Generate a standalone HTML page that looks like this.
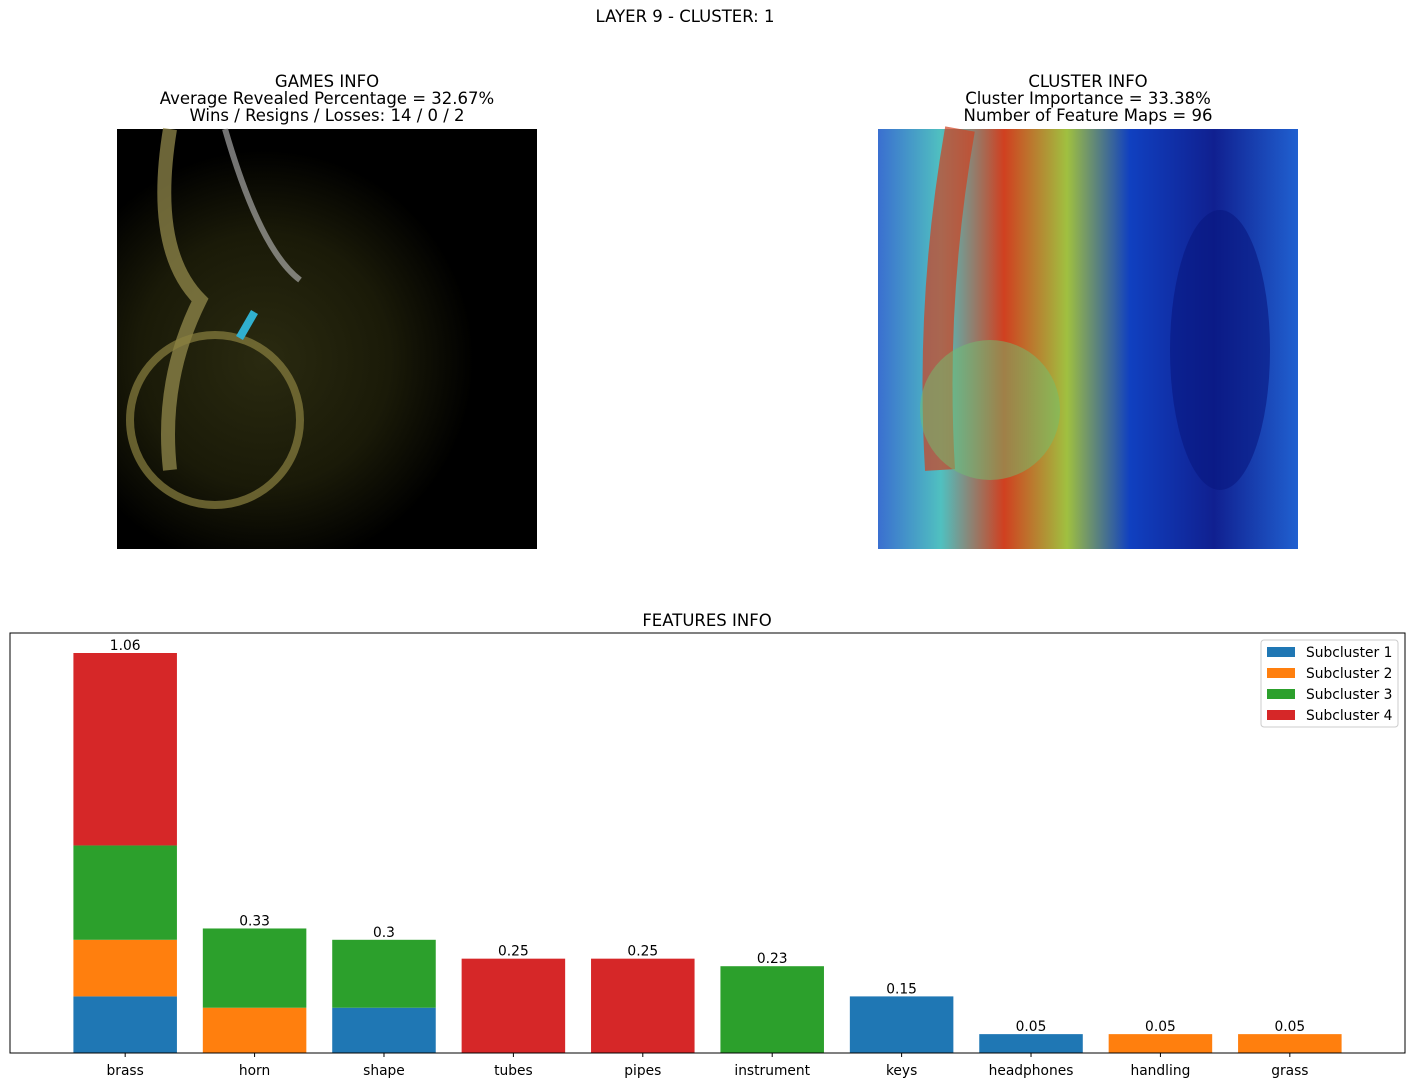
<!DOCTYPE html>
<html><head><meta charset="utf-8"><style>
body{margin:0;background:#fff;}
svg text{font-family:"DejaVu Sans","Liberation Sans",sans-serif;}
</style></head><body>
<svg id="fig" width="1415" height="1087" xmlns="http://www.w3.org/2000/svg">
<defs>
<radialGradient id="gl" cx="0.35" cy="0.55" r="0.5"><stop offset="0" stop-color="#2a2a10"/><stop offset="0.6" stop-color="#1a1a08"/><stop offset="1" stop-color="#000"/></radialGradient>
<linearGradient id="hb" x1="0" y1="0" x2="1" y2="0"><stop offset="0" stop-color="#3a6fd0"/><stop offset="0.15" stop-color="#50c0c0"/><stop offset="0.3" stop-color="#d04020"/><stop offset="0.45" stop-color="#a0c040"/><stop offset="0.6" stop-color="#1040c0"/><stop offset="0.8" stop-color="#102090"/><stop offset="1" stop-color="#2060d0"/></linearGradient>
</defs>
<text x="685" y="22" font-size="16.5" text-anchor="middle">LAYER 9 - CLUSTER: 1</text>
<g font-size="16.5" text-anchor="middle">
<text x="327" y="87">GAMES INFO</text><text x="327" y="104">Average Revealed Percentage = 32.67%</text><text x="327" y="121">Wins / Resigns / Losses: 14 / 0 / 2</text></g>
<g font-size="16.5" text-anchor="middle">
<text x="1088" y="87">CLUSTER INFO</text><text x="1088" y="104">Cluster Importance = 33.38%</text><text x="1088" y="121">Number of Feature Maps = 96</text></g>
<g>
<rect x="117" y="129" width="420" height="420" fill="#000"/>
<rect x="117" y="129" width="420" height="420" fill="url(#gl)"/>
<path d="M170 129 Q150 250 200 300 Q160 380 170 470" stroke="#9a9050" stroke-width="14" fill="none" opacity="0.7"/>
<circle cx="215" cy="420" r="85" stroke="#8a8040" stroke-width="8" fill="none" opacity="0.7"/>
<path d="M225 129 Q260 250 300 280" stroke="#c0c0c0" stroke-width="6" fill="none" opacity="0.6"/>
<rect x="243" y="310" width="8" height="30" fill="#30b0d0" transform="rotate(30 247 325)"/>
</g>
<g>
<rect x="878" y="129" width="420" height="420" fill="url(#hb)"/>
<path d="M960 129 Q930 300 940 470" stroke="#d04020" stroke-width="30" fill="none" opacity="0.7"/>
<circle cx="990" cy="410" r="70" fill="#70c070" opacity="0.5"/>
<ellipse cx="1220" cy="350" rx="50" ry="140" fill="#081880" opacity="0.6"/>
</g>
<text x="707" y="626" font-size="16.5" text-anchor="middle">FEATURES INFO</text>
<g id="bars"></g>
<rect x="10" y="633" width="1395" height="420" fill="none" stroke="#000" stroke-width="1"/>
<g id="xaxis"></g>
<g id="legend">
<rect x="1261" y="640" width="137" height="87" rx="3" fill="#fff" stroke="#ccc"/>
</g>
</svg>
<script>
const categories=["brass","horn","shape","tubes","pipes","instrument","keys","headphones","handling","grass"];
const sub1=[0.15,0,0.12,0,0,0,0.15,0.05,0,0];
const sub2=[0.15,0.12,0,0,0,0,0,0,0.05,0.05];
const sub3=[0.25,0.21,0.18,0,0,0.23,0,0,0,0];
const sub4=[0.51,0,0,0.25,0.25,0,0,0,0,0];
const valueLabels=["1.06","0.33","0.3","0.25","0.25","0.23","0.15","0.05","0.05","0.05"];
const seriesNames=["Subcluster 1","Subcluster 2","Subcluster 3","Subcluster 4"];
const colors=["#1f77b4","#ff7f0e","#2ca02c","#d62728"];
const NS="http://www.w3.org/2000/svg";
const L=10,R=1405,T=633,B=1053,ymax=1.113;
const n=categories.length;
const step=(R-L)/(n+0.78);
const x=i=>L+step*(0.89+i);
const y=v=>B-(v/ymax)*(B-T);
const bw=step*0.8;
const series=[sub1,sub2,sub3,sub4];
const bars=document.getElementById('bars');
const xa=document.getElementById('xaxis');
function mk(tag,attrs,parent){const e=document.createElementNS(NS,tag);for(const k in attrs)e.setAttribute(k,attrs[k]);parent.appendChild(e);return e;}
for(let i=0;i<n;i++){
  let base=0;
  series.forEach((s,k)=>{
    if(s[i]>0){
      const r=mk('rect',{x:x(i)-bw/2,y:y(base+s[i]),width:bw,height:y(base)-y(base+s[i]),fill:colors[k]},bars);
      
      
    }
    base+=s[i];
  });
  const t=mk('text',{x:x(i),y:y(base)-3,'font-size':13.8,'text-anchor':'middle'},bars);
  t.textContent=valueLabels[i];
  
  
  const tk=mk('line',{x1:x(i),x2:x(i),y1:B,y2:B+4,stroke:'#000'},xa);
  
  
  const tl=mk('text',{x:x(i),y:B+22,'font-size':13.8,'text-anchor':'middle'},xa);
  tl.textContent=categories[i];
  
  
}
const lg=document.getElementById('legend');
seriesNames.forEach((nm,k)=>{
  const yy=652+k*21;
  const sw=mk('rect',{x:1267,y:yy-5,width:28,height:10,fill:colors[k]},lg);
  
  
  const t=mk('text',{x:1306,y:yy+5,'font-size':13.8},lg);
  t.textContent=nm;
  
  
});
</script>
</body></html>
